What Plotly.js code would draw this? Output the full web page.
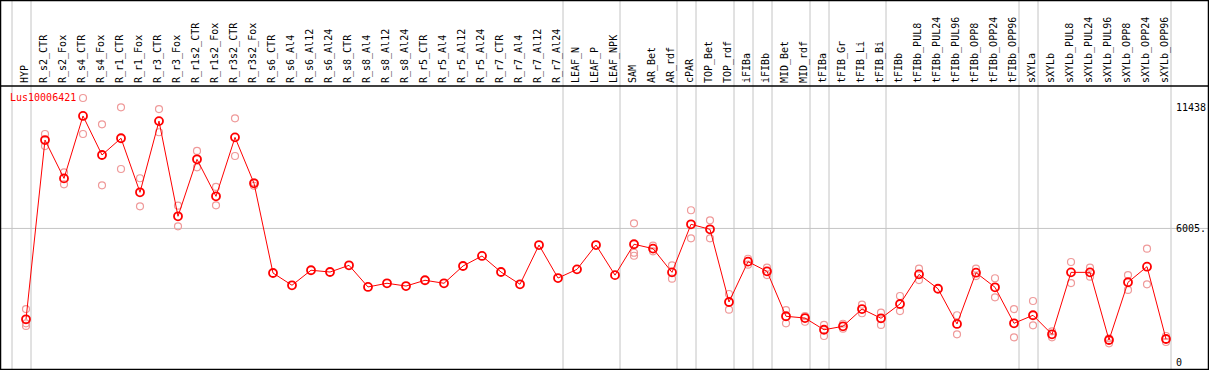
<!DOCTYPE html>
<html>
<head>
<meta charset="utf-8">
<script src="https://cdn.plot.ly/plotly-3.0.1.min.js"></script>
<style>html,body{margin:0;padding:0;background:#fff;}#chart{width:1209px;height:370px;}</style>
</head>
<body>
<div id="chart"></div>
<script>
var categories = ["HYP","R_s2_CTR","R_s2_Fox","R_s4_CTR","R_s4_Fox","R_r1_CTR","R_r1_Fox","R_r3_CTR","R_r3_Fox","R_r1s2_CTR","R_r1s2_Fox","R_r3s2_CTR","R_r3s2_Fox","R_s6_CTR","R_s6_Al4","R_s6_Al12","R_s6_Al24","R_s8_CTR","R_s8_Al4","R_s8_Al12","R_s8_Al24","R_r5_CTR","R_r5_Al4","R_r5_Al12","R_r5_Al24","R_r7_CTR","R_r7_Al4","R_r7_Al12","R_r7_Al24","LEAF_N","LEAF_P","LEAF_NPK","SAM","AR_Bet","AR_rdf","cPAR","TOP_Bet","TOP_rdf","iFIBa","iFIBb","MID_Bet","MID_rdf","tFIBa","tFIB_Gr","tFIB_Li","tFIB_Bi","tFIBb","tFIBb_PUL8","tFIBb_PUL24","tFIBb_PUL96","tFIBb_OPP8","tFIBb_OPP24","tFIBb_OPP96","sXYLa","sXYLb","sXYLb_PUL8","sXYLb_PUL24","sXYLb_PUL96","sXYLb_OPP8","sXYLb_OPP24","sXYLb_OPP96"];

var meanValues = [1930,9970,8250,11050,9300,10050,7625,10820,6550,9105,7445,10090,8030,4005,3455,4130,4050,4350,3380,3545,3420,3680,3545,4320,4770,4050,3500,5260,3780,4170,5260,3910,5295,5100,4035,6190,5965,2705,4515,4080,2065,1985,1460,1615,2390,1975,2615,3945,3300,1720,4020,3365,1750,2110,1255,4035,4035,1000,3590,4290,1045];

var replicateA = [2390,10240,8520,11855,10675,11438,8255,11360,7025,9480,7865,10945,8075,null,null,null,null,null,null,null,null,null,null,null,null,null,null,null,null,null,null,null,6235,5230,4350,6820,6370,3065,4645,4245,2345,2075,1675,1730,2585,2225,2975,4200,null,2110,4200,3770,2390,2750,1390,4500,4245,1075,3915,5095,1180];
var replicateB = [1750,9700,7985,10240,7940,8670,6995,10320,6100,8745,7040,9255,7920,null,null,null,null,null,null,null,null,null,null,null,null,null,null,null,null,null,null,null,4915,4980,3750,5560,5560,2360,4380,3915,1750,1820,1180,1505,2200,1675,2300,3690,null,1255,3870,2915,1120,1660,1120,3555,3840,850,3245,3500,910];
var replicateC = [1630,null,null,null,null,null,null,null,null,null,null,null,null,null,null,null,null,null,null,null,null,null,null,null,null,null,null,null,null,null,null,null,4780,null,null,null,null,null,null,null,null,null,null,null,null,null,null,null,null,null,null,null,null,null,null,null,null,null,null,null,null];

var groupStarts = [0,1,29,32,35,36,38,39,40,42,43,46,53,54,61];
var geneName = "Lus10006421";
var yTickValues = [0, 6005, 11438];
var yTickLabels = ["0", "6005.", "11438"];

var idx = categories.map(function(_, i){ return i; });
var repX = [], repY = [];
[replicateA, replicateB, replicateC].forEach(function(arr){
  arr.forEach(function(v, i){ if (v !== null) { repX.push(i); repY.push(v); } });
});

var mono = "DejaVu Sans Mono, monospace";
var traces = [
  {type:'scatter', mode:'markers', x:repX, y:repY, hoverinfo:'skip',
   marker:{symbol:'circle-open', size:7, color:'#ef9a9a', line:{width:1.2, color:'#ef9a9a'}}, showlegend:false},
  {type:'scatter', mode:'lines+markers', x:idx, y:meanValues, name:geneName,
   line:{color:'#ff0000', width:1},
   marker:{symbol:'circle-open', size:8, color:'#ff0000', line:{width:1.8, color:'#ff0000'}}, showlegend:false}
];

var shapes = [];
groupStarts.forEach(function(b){
  shapes.push({type:'line', xref:'x', yref:'paper', x0:b-1+5/19, x1:b-1+5/19, y0:0, y1:1, line:{color:'#c4c4c4', width:1}, layer:'below'});
});
shapes.push({type:'line', xref:'paper', yref:'y', x0:0, x1:1, y0:6005, y1:6005, line:{color:'#c4c4c4', width:1}, layer:'below'});
var plotTop = (370-86)/370;
shapes.push({type:'line', xref:'paper', yref:'paper', x0:0, x1:1, y0:plotTop, y1:plotTop, line:{color:'#000', width:1.5}});
shapes.push({type:'rect', xref:'paper', yref:'paper', x0:0, x1:1, y0:0, y1:1, line:{color:'#000', width:2.5}});

var layout = {
  width:1209, height:370,
  margin:{l:0, r:0, t:0, b:0, pad:0},
  paper_bgcolor:'#fff', plot_bgcolor:'#fff',
  showlegend:false,
  xaxis:{range:[-26/19, 1183/19], domain:[0,1], side:'top', tickmode:'array', tickvals:idx, ticktext:categories,
         tickangle:-90, tickfont:{family:mono, size:10, color:'#000'}, ticks:'', ticklabelstandoff:2, ticklabelshift:-1,
         showgrid:false, zeroline:false, showline:false, fixedrange:true},
  yaxis:{range:[-345, 12394], domain:[0, plotTop], anchor:'free', position:1175/1209, side:'right',
         tickmode:'array', tickvals:yTickValues, ticktext:yTickLabels, ticks:'', ticklen:0,
         tickfont:{family:mono, size:10, color:'#000'}, showgrid:false, zeroline:false, showline:false, fixedrange:true},
  shapes:shapes,
  annotations:[{text:geneName, xref:'paper', yref:'paper', x:8/1209, y:(370-97)/370, xanchor:'left', yanchor:'middle',
                showarrow:false, font:{family:mono, size:10, color:'#ff0000'}}]
};

Plotly.newPlot('chart', traces, layout, {displayModeBar:false, staticPlot:true});
</script>
</body>
</html>
